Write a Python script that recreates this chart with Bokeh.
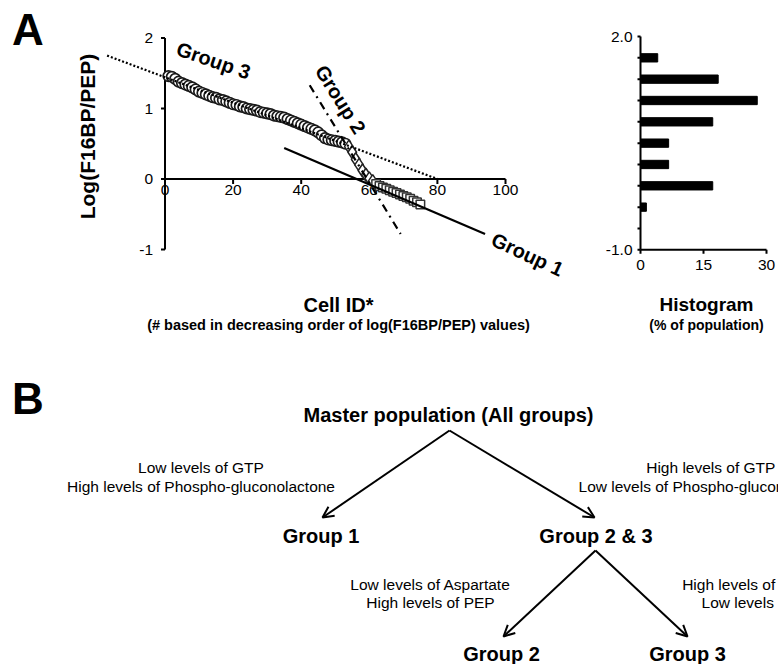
from bokeh.plotting import figure
from bokeh.models import Range1d, Arrow, OpenHead
from bokeh.core.properties import value
from bokeh.embed import file_html
from bokeh.resources import INLINE

# ---------------- data ----------------
cell_id = list(range(1, 76))
log_ratio = [
    1.46, 1.45, 1.42, 1.38, 1.36, 1.34, 1.32, 1.30, 1.27, 1.24,
    1.22, 1.20, 1.18, 1.16, 1.15, 1.13, 1.12, 1.10, 1.08, 1.06,
    1.05, 1.03, 1.02, 1.00, 0.99, 0.98, 0.97, 0.95, 0.94, 0.93,
    0.92, 0.90, 0.89, 0.88, 0.87, 0.85, 0.83, 0.81, 0.79, 0.77,
    0.75, 0.73, 0.71, 0.69, 0.66, 0.62, 0.58, 0.56, 0.55, 0.54,
    0.53, 0.52, 0.50,
    0.46, 0.38, 0.28, 0.20, 0.12, 0.06, 0.01, -0.03,
    -0.07, -0.10, -0.12, -0.14, -0.16, -0.18, -0.20, -0.22, -0.24,
    -0.26, -0.28, -0.31, -0.33, -0.36,
]
cell_group = ["Group 3"] * 53 + ["Group 2"] * 8 + ["Group 1"] * 14

fit3_x = [-17, 80]
fit3_y = [1.75, 0.0]
fit2_x = [42.5, 69.2]
fit2_y = [1.33, -0.78]
fit1_x = [35, 94]
fit1_y = [0.44, -0.78]

scatter_xticks = [0, 20, 40, 60, 80, 100]
scatter_xlabels = ["0", "20", "40", "60", "80", "100"]
scatter_yticks = [-1, 0, 1, 2]
scatter_ylabels = ["-1", "0", "1", "2"]

hist_bin_centers = [1.7, 1.4, 1.1, 0.8, 0.5, 0.2, -0.1, -0.4]
hist_percent = [4.1, 18.5, 27.8, 17.2, 6.7, 6.7, 17.2, 1.4]
hist_yticks = [-1.0, -0.7, -0.4, -0.1, 0.2, 0.5, 0.8, 1.1, 1.4, 1.7, 2.0]
hist_ylabel_ticks = [-1.0, 2.0]
hist_ylabels = ["-1.0", "2.0"]
hist_xticks = [0, 15, 30]
hist_xlabels = ["0", "15", "30"]

# ---------------- page geometry ----------------
W, H = 778, 664
RX0, RX1, RY0, RY1 = 0, 778, 0, 664   # reference pixel box mapped to the frame

FONT = value("Liberation Sans")


def xrange_for(d0, p0, k):
    return Range1d(start=d0 + (RX0 - p0) / k, end=d0 + (RX1 - p0) / k)


def yrange_for(d0, p0, k):
    return Range1d(start=d0 - (RY1 - p0) / k, end=d0 - (RY0 - p0) / k)


p = figure(width=W, height=H, output_backend="svg", toolbar_location=None,
           tools="", min_border=0, x_axis_location=None, y_axis_location=None,
           x_range=Range1d(RX0, RX1), y_range=Range1d(RY1, RY0))
p.outline_line_color = None
p.background_fill_color = "white"
p.border_fill_color = "white"
p.grid.visible = False

p.extra_x_ranges = {"sx": xrange_for(0, 164.5, 3.405), "hx": xrange_for(0, 640, 4.2)}
p.extra_y_ranges = {"sy": yrange_for(0, 178.5, 70.5), "hy": yrange_for(2.0, 36, 71.1)}
S = dict(x_range_name="sx", y_range_name="sy")
Hh = dict(x_range_name="hx", y_range_name="hy")

# ---------------- scatter panel (A, left) ----------------
p.line([0, 0], [min(scatter_yticks), max(scatter_yticks)], line_color="black", line_width=2, **S)
p.line([min(scatter_xticks), max(scatter_xticks)], [0, 0], line_color="black", line_width=2, **S)
p.ray(x=scatter_xticks[1:], y=[0] * (len(scatter_xticks) - 1), length=5, length_units="screen",
      angle=-90, angle_units="deg", line_color="black", line_width=2, **S)
p.ray(x=[0] * len(scatter_yticks), y=scatter_yticks, length=4, length_units="screen",
      angle=180, angle_units="deg", line_color="black", line_width=2, **S)
p.text(x=scatter_xticks, y=[0] * len(scatter_xticks), text=scatter_xlabels, y_offset=11,
       text_align="center", text_baseline="middle", text_font=FONT, text_font_size="15.5px",
       text_color="black", **S)
p.text(x=[0] * len(scatter_yticks), y=scatter_yticks, text=scatter_ylabels, x_offset=-12,
       text_align="right", text_baseline="middle", text_font=FONT, text_font_size="15.5px",
       text_color="black", **S)

g3 = [i for i, g in enumerate(cell_group) if g == "Group 3"]
g2 = [i for i, g in enumerate(cell_group) if g == "Group 2"]
g1 = [i for i, g in enumerate(cell_group) if g == "Group 1"]
p.scatter([cell_id[i] for i in g3], [log_ratio[i] for i in g3], marker="circle", size=10.5,
          fill_color="white", line_color="#1a1a1a", line_width=1.7, **S)
p.scatter([cell_id[i] for i in g2], [log_ratio[i] for i in g2], marker="diamond", size=13,
          fill_color="white", line_color="#222222", line_width=1.5, **S)
p.scatter([cell_id[i] for i in g1], [log_ratio[i] for i in g1], marker="square", size=8.5,
          fill_color="white", line_color="#333333", line_width=1.5, **S)

p.line(fit3_x, fit3_y, line_color="black", line_width=2.2, line_dash="2 2", **S)
p.line(fit2_x, fit2_y, line_color="black", line_width=2.2, line_dash="8 5 2 5", **S)
p.line(fit1_x, fit1_y, line_color="black", line_width=2.2, **S)

# ---------------- histogram panel (A, right) ----------------
p.hbar(y=hist_bin_centers, left=0, right=hist_percent, height=0.117,
       fill_color="black", line_color="black", **Hh)
p.line([0, 0], [min(hist_yticks), max(hist_yticks)], line_color="black", line_width=2, **Hh)
p.line([min(hist_xticks), max(hist_xticks)], [-1.0, -1.0], line_color="black", line_width=2, **Hh)
p.ray(x=[0] * len(hist_yticks), y=hist_yticks, length=3, length_units="screen",
      angle=180, angle_units="deg", line_color="black", line_width=2, **Hh)
p.ray(x=hist_xticks, y=[-1.0] * len(hist_xticks), length=4, length_units="screen",
      angle=-90, angle_units="deg", line_color="black", line_width=2, **Hh)
p.text(x=[0] * len(hist_ylabel_ticks), y=hist_ylabel_ticks, text=hist_ylabels, x_offset=-8,
       text_align="right", text_baseline="middle", text_font=FONT, text_font_size="15.5px",
       text_color="black", **Hh)
p.text(x=hist_xticks, y=[-1.0] * len(hist_xticks), text=hist_xlabels, y_offset=15,
       text_align="center", text_baseline="middle", text_font=FONT, text_font_size="15.5px",
       text_color="black", **Hh)


# ---------------- titles / annotations of panel A ----------------
def label(x, y, t, size, bold=True, angle=0, align="center"):
    p.text(x=[x], y=[y], text=[t], angle=angle, angle_units="deg", text_align=align,
           text_baseline="middle", text_font=FONT, text_font_size=size,
           text_font_style="bold" if bold else "normal", text_color="black")


label(27.5, 29, "A", "44px")
label(27.5, 397.5, "B", "44px")
label(87, 136, "Log(F16BP/PEP)", "21px", angle=90)
label(338, 304, "Cell ID*", "20px")
label(338, 324, "(# based in decreasing order of log(F16BP/PEP) values)", "14.5px")
label(706, 304, "Histogram", "19px")
label(706, 324, "(% of population)", "14px")
label(213, 60, "Group 3", "20px", angle=-19)
label(340, 99, "Group 2", "20px", angle=-58)
label(527, 254, "Group 1", "20px", angle=-25)

# ---------------- panel B: decision tree ----------------
tree_nodes = ["Master population (All groups)", "Group 1", "Group 2 & 3", "Group 2", "Group 3"]
node_x = [448, 320.5, 595.5, 501, 687]
node_y = [414, 535, 535, 653, 653]
for t, x, y in zip(tree_nodes, node_x, node_y):
    label(x, y, t, "20px")

rules = [
    (200.5, ["Low levels of GTP", "High levels of Phospho-gluconolactone"], 467.3),
    (710.3, ["High levels of GTP", "Low levels of Phospho-gluconolactone"], 467.3),
    (430, ["Low levels of Aspartate", "High levels of PEP"], 584),
    (763.5, ["High levels of Aspartate", "Low levels of PEP"], 584),
]
for cx, lines, y0 in rules:
    for j, t in enumerate(lines):
        label(cx, y0 + 18.4 * j, t, "15.5px", bold=False)

edges = [(449, 430, 322, 517), (449, 430, 594, 517), (595, 550, 503, 636), (595, 550, 687, 636)]
for xs, ys, xe, ye in edges:
    p.add_layout(Arrow(start=None, end=OpenHead(size=11, line_width=2, line_color="black"),
                       x_start=xs, y_start=ys, x_end=xe, y_end=ye,
                       line_width=2, line_color="black"))

open("out.html", "w").write(file_html(p, INLINE))
